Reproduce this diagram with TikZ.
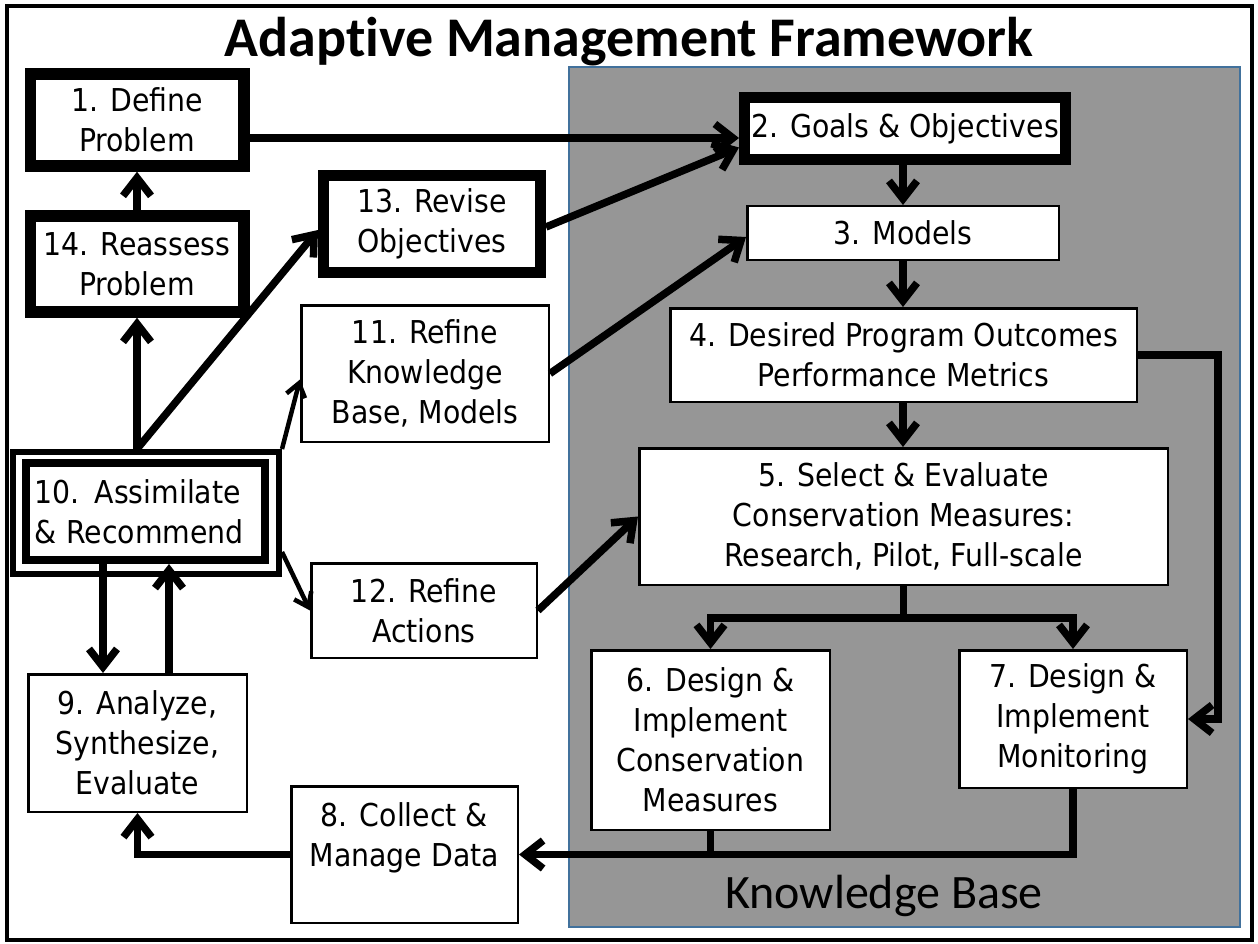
\documentclass[tikz,border=0pt]{standalone}
\usepackage{fontspec}
\setmainfont{DejaVu Sans Condensed}
\newfontfamily\titlefont{Carlito}[Ligatures=NoCommon]
\usetikzlibrary{arrows.meta,calc}
\definecolor{kbgray}{RGB}{150,150,150}
\definecolor{kbblue}{RGB}{65,113,156}
\begin{document}
\begin{tikzpicture}[x=1pt,y=-1pt,
  box/.style={draw=black, line width=2.5pt, fill=white, align=center,
    font=\fontsize{31.5}{40}\selectfont, inner sep=0pt},
  thkbox/.style={box, line width=11.5pt},
  arr/.style={line width=7.5pt, -{Straight Barb[length=18pt,width=28pt]}},
  thinarr/.style={line width=4.5pt, -{Straight Barb[length=13pt,width=19pt]}},
  plainline/.style={line width=7.5pt}
]
\useasboundingbox (0,0) rectangle (1258,944);
\draw[line width=4pt] (7,6) rectangle (1252,940);
\filldraw[fill=kbgray, draw=kbblue, line width=2.5pt] (569,67) rectangle (1240,927);

\node[font=\titlefont\bfseries\fontsize{56}{60}\selectfont, anchor=base] (title) at (629,57) {Adaptive Management Framework};
\node[font=\titlefont\fontsize{48}{52}\selectfont, anchor=base] (kb) at (884,908) {Knowledge Base};

\node[thkbox, minimum width=213.5pt, minimum height=92pt] (n1) at (137,120) {1. Define\\Problem};
\node[thkbox, minimum width=213.5pt, minimum height=96pt] (n14) at (137,264) {14. Reassess\\Problem};
\node[thkbox, line width=11pt, minimum width=217pt, minimum height=97pt] (n13) at (432,224) {13. Revise\\Objectives};
\node[thkbox, line width=11pt, minimum width=321pt, minimum height=62pt] (n2) at (905,128.5) {2. Goals \& Objectives};
\node[box, minimum width=311.5pt, minimum height=53.5pt] (n3) at (903,233) {3. Models};
\node[box, minimum width=466.5pt, minimum height=93.5pt] (n4) at (903.5,355) {4. Desired Program Outcomes\\Performance Metrics};
\node[box, minimum width=528.5pt, minimum height=136.5pt] (n5) at (903.5,516.5) {5. Select \& Evaluate\\Conservation Measures:\\Research, Pilot, Full-scale};
\node[box, minimum width=238.5pt, minimum height=179.5pt] (n6) at (710.5,740) {6. Design \&\\Implement\\Conservation\\Measures};
\node[box, minimum width=227.5pt, minimum height=137.5pt] (n7) at (1073,719) {7. Design \&\\Implement\\Monitoring};
\node[box, minimum width=226.5pt, minimum height=136.5pt] (n8) at (404.5,854.5) {8. Collect \&\\Manage Data\\~};
\node[box, minimum width=218.5pt, minimum height=137.5pt] (n9) at (137.5,743) {9. Analyze,\\Synthesize,\\Evaluate};
\node[box, line width=6pt, minimum width=266pt, minimum height=122pt] (n10o) at (146,513) {};
\node[box, line width=8pt, align=left, inner xsep=8pt, text width=223pt, minimum height=97pt] (n10i) at (145.5,511.5) {10. Assimilate\\\& Recommend};
\node[box, minimum width=247.5pt, minimum height=136.5pt] (n11) at (425,373.5) {11. Refine\\Knowledge\\Base, Models};
\node[box, minimum width=225.5pt, minimum height=94.5pt] (n12) at (424,610.5) {12. Refine\\Actions};

\coordinate (y138) at (0,138);
\draw[arr] (n1.east |- y138) -- (n2.west |- y138);
\draw[arr] (n14.north) -- (n1.south);
\coordinate (s10) at (n14.south |- n10o.north);
\draw[arr] (s10) -- (n14.south);
\draw[arr] (s10) -- ($(n13.west)+(0,6)$);
\draw[arr] ($(n13.east)+(0,3)$) -- ($(n2.west)+(0,19)$);
\draw[arr] (n11.east) -- ($(n3.west)+(0,4)$);
\draw[thinarr] (n10o.north east) -- ($(n11.west)+(0,6)$);
\draw[thinarr] ($(n10o.east)+(0,39)$) -- (n12.west);
\draw[arr] (n12.east) -- (n5.west);
\draw[arr] (n2.south -| n3.north) -- (n3.north);
\draw[arr] (n3.south) -- (n4.north -| n3.south);
\draw[arr] (n4.south -| n3.south) -- (n5.north -| n3.south);

\coordinate (br) at (0,618);
\draw[plainline] (n5.south) -- (n5.south |- br);
\draw[arr] (n5.south |- br) -| (n6.north);
\draw[arr] (n5.south |- br) -| (n7.north);

\coordinate (rx) at (1218,0);
\draw[arr] (n4.east) -- (n4.east -| rx) |- (n7.east);
\draw[arr] (n7.south) |- (n8.east);
\draw[plainline] (n6.south) -- (n6.south |- n8.east);
\draw[arr] (n8.west) -| (n9.south);
\coordinate (x103) at (103,0);
\coordinate (x169) at (169,0);
\draw[arr] (n10i.south -| x103) -- (n9.north -| x103);
\draw[arr] (n9.north -| x169) -- (n10i.south -| x169);
\end{tikzpicture}
\end{document}
